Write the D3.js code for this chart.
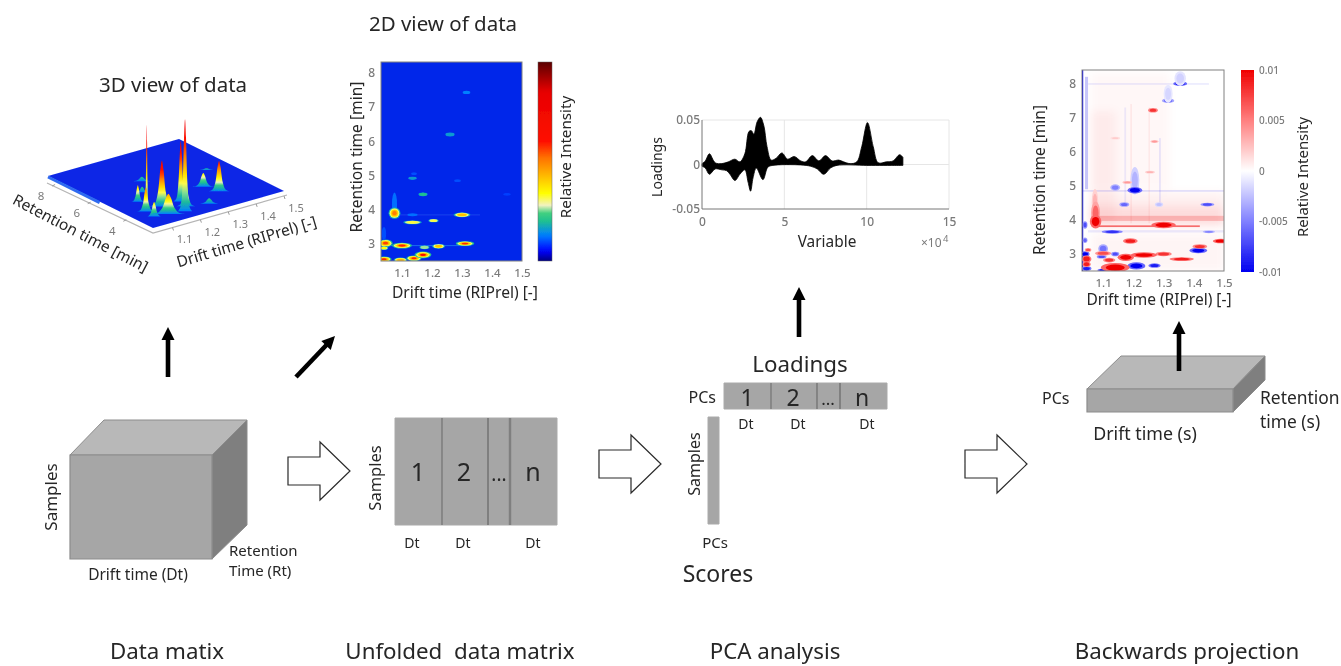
<!DOCTYPE html>
<html>
<head>
<meta charset="utf-8">
<title>PCA workflow</title>
<script src="https://d3js.org/d3.v7.min.js"></script>
<style>
html, body { margin: 0; padding: 0; background: #fff; }
svg { display: block; }
text { font-family: "Noto Sans", sans-serif; fill: #262626; }
.tick text { fill: #7a7a7a; font-weight: 500; }
</style>
</head>
<body>
<div id="chart"></div>
<script>
// tick labels
var driftTicks = [1.1, 1.2, 1.3, 1.4, 1.5];
var rtTicks = [3, 4, 5, 6, 7, 8];
var rt3dTicks = [4, 6, 8];
var loadXTicks = [0, 5, 10, 15];
var loadYTicks = [-0.05, 0, 0.05];
var divTicks = [-0.01, -0.005, 0, 0.005, 0.01];

// 3D view: drift, retention time, height (relative), spread in drift
var peaks3d = [
  [1.335, 4.45, 0.15, 0.026],
  [1.35, 3.80, 0.33, 0.024],
  [1.116, 4.70, 0.18, 0.016],
  [1.10, 3.95, 0.92, 0.006],
  [1.09, 3.84, 0.26, 0.020],
  [1.15, 3.88, 0.50, 0.026],
  [1.216, 3.85, 0.66, 0.016],
  [1.18, 3.05, 1.00, 0.016],
  [1.205, 3.40, 0.26, 0.022],
  [1.13, 3.20, 0.22, 0.040],
  [1.27, 3.10, 0.06, 0.028],
  [1.085, 3.30, 0.16, 0.020],
  [1.22, 6.10, 0.05, 0.026],
  [1.17, 5.30, 0.06, 0.020],
  [1.42, 5.60, 0.02, 0.024]
];

// 2D view: drift, retention time, intensity, spread in drift, spread in rt
var heat2d = [
  [1.075, 4.15, 0.12, 0.006, 0.25],
  [1.075, 3.90, 0.50, 0.014, 0.12],
  [1.045, 3.02, 0.56, 0.017, 0.08],
  [1.04, 3.30, 0.10, 0.005, 0.14],
  [1.04, 2.88, 0.34, 0.010, 0.04],
  [1.10, 2.95, 0.58, 0.024, 0.06],
  [1.175, 2.90, 0.26, 0.012, 0.04],
  [1.222, 2.93, 0.42, 0.015, 0.05],
  [1.31, 3.01, 0.58, 0.022, 0.05],
  [1.04, 2.55, 0.58, 0.018, 0.06],
  [1.095, 2.53, 0.44, 0.016, 0.05],
  [1.14, 2.58, 0.58, 0.018, 0.06],
  [1.17, 2.68, 0.66, 0.020, 0.07],
  [1.135, 3.63, 0.32, 0.022, 0.04],
  [1.205, 3.68, 0.32, 0.012, 0.035],
  [1.30, 3.85, 0.42, 0.020, 0.05],
  [1.135, 3.85, 0.12, 0.012, 0.03],
  [1.17, 4.45, 0.20, 0.011, 0.04],
  [1.135, 4.92, 0.16, 0.010, 0.03],
  [1.14, 5.05, 0.10, 0.007, 0.025],
  [1.285, 4.85, 0.10, 0.008, 0.025],
  [1.45, 4.45, 0.09, 0.009, 0.025],
  [1.26, 6.20, 0.16, 0.011, 0.04],
  [1.315, 7.43, 0.13, 0.009, 0.035]
];

// loadings envelope, x in 10^4
var loadUpX = [0, 0.2, 0.45, 0.8, 1.2, 1.6, 2, 2.3, 2.6, 2.85, 3.0, 3.15, 3.35, 3.55, 3.75, 3.95, 4.2, 4.5, 4.85, 5.2, 5.6, 6, 6.3, 6.7, 7.1, 7.5, 7.9, 8.3, 8.6, 9, 9.4, 9.7, 10.05, 10.4, 10.7, 11.2, 11.6, 12, 12.2];
var loadUpY = [0.001, 0.004, 0.012, 0.002, 0.001, 0.003, 0.006, 0.003, 0.012, 0.037, 0.038, 0.034, 0.048, 0.053, 0.044, 0.02, 0.005, 0.007, 0.013, 0.006, 0.009, 0.004, 0.003, 0.010, 0.004, 0.010, 0.004, 0.005, 0.003, 0.001, 0.003, 0.02, 0.047, 0.02, 0.002, 0.003, 0.004, 0.011, 0.008];
var loadLoX = [0, 0.2, 0.45, 0.8, 1.2, 1.5, 1.7, 2, 2.3, 2.6, 2.8, 2.95, 3.1, 3.3, 3.7, 4, 4.3, 6, 6.6, 7, 7.4, 7.8, 8.2, 10, 11, 11.5, 12.2];
var loadLoY = [-0.002, -0.004, -0.011, -0.005, -0.006, -0.007, -0.011, -0.018, -0.011, -0.006, -0.02, -0.03, -0.015, -0.004, -0.017, -0.003, -0.001, -0.0005, -0.002, -0.005, -0.011, -0.004, -0.001, -0.001, -0.001, -0.001, -0.001];

// backwards projection: broad washes as drift0, drift1, rt0, rt1, value (-1..1)
var divWash = [
  [1.06, 1.5, 3.85, 4.4, 0.14],
  [1.06, 1.5, 4.4, 4.8, 0.06],
  [1.06, 1.32, 4.9, 8.3, 0.03],
  [1.06, 1.14, 3.9, 7.2, 0.05],
  [1.06, 1.5, 2.5, 3.6, 0.04]
];
// thin streaks, same layout
var divStreak = [
  [1.06, 1.5, 3.97, 4.12, 0.2],
  [1.08, 1.42, 3.79, 3.84, 0.55],
  [1.03, 1.5, 4.83, 4.87, -0.15],
  [1.05, 1.45, 7.97, 8.01, -0.1],
  [1.04, 1.05, 4.9, 8.2, -0.22],
  [1.03, 1.034, 2.5, 8.4, -1],
  [1.17, 1.176, 4.4, 7.3, -0.07],
  [1.285, 1.291, 4.4, 6.4, -0.09],
  [1.19, 1.195, 3.9, 7.4, 0.07],
  [1.25, 1.255, 3.9, 7.3, 0.06],
  [1.05, 1.5, 3.63, 3.7, -0.08]
];
// drift, rt, value, spread in drift, spread in rt
var divPeaks = [
  [1.355, 8.00, -1, 0.017, 0.05],
  [1.355, 8.15, -0.18, 0.014, 0.16],
  [1.315, 7.50, -0.6, 0.015, 0.05],
  [1.315, 7.70, -0.16, 0.011, 0.2],
  [1.205, 5.15, -0.3, 0.011, 0.3],
  [1.205, 4.87, -1, 0.018, 0.07],
  [1.14, 4.95, -0.5, 0.012, 0.07],
  [1.17, 4.45, -0.6, 0.012, 0.05],
  [1.285, 4.45, -0.25, 0.010, 0.05],
  [1.445, 4.45, -0.7, 0.017, 0.04],
  [1.45, 3.65, -0.5, 0.015, 0.03],
  [1.13, 3.65, -0.8, 0.026, 0.04],
  [1.10, 3.15, -0.55, 0.012, 0.1],
  [1.04, 3.85, -0.7, 0.006, 0.08],
  [1.04, 3.40, -0.6, 0.006, 0.06],
  [1.04, 3.00, -1, 0.011, 0.06],
  [1.415, 3.10, -1, 0.022, 0.06],
  [1.21, 2.65, -1, 0.022, 0.08],
  [1.27, 2.66, -0.9, 0.015, 0.05],
  [1.14, 3.00, -0.7, 0.010, 0.05],
  [1.095, 2.92, -0.7, 0.012, 0.04],
  [1.045, 2.57, -0.9, 0.012, 0.05],
  [1.10, 2.52, -0.9, 0.014, 0.04],
  [1.073, 4.5, 0.3, 0.008, 0.3],
  [1.075, 4.2, 0.6, 0.011, 0.25],
  [1.075, 3.95, 1, 0.014, 0.15],
  [1.30, 3.85, 1, 0.030, 0.07],
  [1.265, 7.22, 0.8, 0.012, 0.05],
  [1.27, 6.30, 0.4, 0.010, 0.03],
  [1.255, 5.40, 0.3, 0.012, 0.03],
  [1.14, 6.40, 0.2, 0.012, 0.03],
  [1.18, 5.10, 0.4, 0.012, 0.03],
  [1.19, 3.38, 0.9, 0.018, 0.06],
  [1.42, 3.22, 0.8, 0.018, 0.05],
  [1.49, 3.38, 1, 0.020, 0.05],
  [1.30, 3.00, 0.8, 0.020, 0.05],
  [1.36, 2.85, 0.9, 0.030, 0.04],
  [1.175, 2.90, 1, 0.020, 0.08],
  [1.235, 2.97, 1, 0.032, 0.06],
  [1.14, 2.60, 1, 0.035, 0.10],
  [1.045, 2.85, 0.9, 0.012, 0.08],
  [1.045, 2.70, 0.9, 0.010, 0.06],
  [1.10, 3.02, 0.7, 0.020, 0.05],
  [1.12, 2.82, 0.8, 0.015, 0.05],
  [1.05, 3.12, 0.7, 0.008, 0.04]
];

// colour maps
var jetPos = [0, 0.05, 0.13, 0.2, 0.24, 0.28, 0.34, 0.42, 0.52, 0.6, 0.85, 1];
var jetCol = ["#00007f", "#0000ff", "#0080ff", "#20c090", "#40d080", "#f2f2c0", "#ffff00", "#ffc000", "#ff7000", "#ff1000", "#e80000", "#5a0000"];
var jet = d3.scaleLinear().domain(jetPos).range(jetCol).clamp(true);
var redBlue = d3.scaleLinear().domain([-1, -0.5, 0, 0.5, 1]).range(["#0000f0", "#8080ff", "#ffffff", "#ff8080", "#f00000"]).clamp(true);

var w = 1341, h = 666;
var svg = d3.select("#chart").append("svg").attr("width", w).attr("height", h);
svg.append("rect").attr("width", w).attr("height", h).attr("fill", "#fff");
var defs = svg.append("defs");

function addBlur(id, sd) {
  defs.append("filter").attr("id", id)
    .attr("x", "-20%").attr("y", "-20%").attr("width", "140%").attr("height", "140%")
    .append("feGaussianBlur").attr("stdDeviation", sd);
}
addBlur("soft", 0.45);
addBlur("heat", 0.7);
addBlur("wash", 4.5);
addBlur("streak", 0.6);
var root = svg.append("g").attr("filter", "url(#soft)");

function label(t, x, y, size, anchor, rot) {
  var n = root.append("text").text(t).attr("font-size", size).attr("text-anchor", anchor || "middle");
  if (rot) n.attr("transform", "translate(" + x + "," + y + ") rotate(" + rot + ")");
  else n.attr("x", x).attr("y", y);
  return n;
}

function poly(pts, fill, stroke, sw) {
  return root.append("polygon").attr("points", pts.join(" "))
    .attr("fill", fill).attr("stroke", stroke || "none").attr("stroke-width", sw || 0)
    .attr("stroke-linejoin", "miter");
}

function verticalBar(id, scale, dom) {
  var grad = defs.append("linearGradient").attr("id", id)
    .attr("x1", 0).attr("y1", 1).attr("x2", 0).attr("y2", 0);
  dom.forEach(function(v, i) {
    grad.append("stop").attr("offset", i / (dom.length - 1)).attr("stop-color", scale(v));
  });
}

// black arrows
function blackArrow(x0, y0, x1, y1) {
  var a = Math.atan2(y1 - y0, x1 - x0) * 180 / Math.PI;
  var len = Math.hypot(x1 - x0, y1 - y0);
  var g = root.append("g").attr("transform", "translate(" + x0 + "," + y0 + ") rotate(" + a + ")");
  g.append("rect").attr("x", 0).attr("y", -2.3).attr("width", len - 11).attr("height", 4.6).attr("fill", "#000");
  g.append("path").attr("d", "M" + (len - 13) + ",-6.5L" + len + ",0L" + (len - 13) + ",6.5Z").attr("fill", "#000");
}

// hollow arrows between blocks
function hollowArrow(x, yMid) {
  poly([[x, yMid - 14], [x + 32, yMid - 14], [x + 32, yMid - 29], [x + 62, yMid], [x + 32, yMid + 29], [x + 32, yMid + 14], [x, yMid + 14]],
    "#fff", "#2a2a2a", 1.2);
}

// ---------- blocks ----------
var sideC = "#7f7f7f", frontC = "#a6a6a6", topC = "#b8b8b8", edgeC = "#8c8c8c";

// data cube
poly([[70, 455], [104, 420], [247, 420], [212, 455]], topC, edgeC, 1);
poly([[212, 455], [247, 420], [247, 525], [212, 559]], sideC, edgeC, 1);
poly([[70, 455], [212, 455], [212, 559], [70, 559]], frontC, edgeC, 1.2);
label("Samples", 57, 497, 17, "middle", -90);
label("Drift time (Dt)", 138, 580, 15.5);
label("Retention", 229, 556, 15, "start");
label("Time (Rt)", 229, 576, 15, "start");

blackArrow(168, 377, 168, 327);
blackArrow(296, 377, 335, 336);
hollowArrow(288, 471);

// unfolded matrix
poly([[395, 418], [557, 418], [557, 525], [395, 525]], frontC, "#aaa", 1);
[[442, 1.6], [488, 2], [510, 2.4]].forEach(function(d) {
  root.append("line").attr("x1", d[0]).attr("x2", d[0]).attr("y1", 418).attr("y2", 525)
    .attr("stroke", "#7f7f7f").attr("stroke-width", d[1]);
});
label("Samples", 381, 478, 16.5, "middle", -90);
label("1", 418, 481, 25);
label("2", 464, 481, 25);
label("...", 499, 481, 19);
label("n", 533, 481, 25);
label("Dt", 412, 548, 14);
label("Dt", 463, 548, 14);
label("Dt", 533, 548, 14);

hollowArrow(599, 464);

// PCA blocks
poly([[724, 383], [887, 383], [887, 409], [724, 409]], frontC, "#aaa", 1);
[[771, 1.6], [817, 1.8], [840, 2]].forEach(function(d) {
  root.append("line").attr("x1", d[0]).attr("x2", d[0]).attr("y1", 383).attr("y2", 409)
    .attr("stroke", "#808080").attr("stroke-width", d[1]);
});
poly([[708, 417], [719, 417], [719, 524], [708, 524]], frontC, "#aaa", 1);
label("Loadings", 800, 372, 22.3);
label("Scores", 718, 582, 23);
label("PCs", 716, 403, 16, "end");
label("PCs", 715, 548, 15);
label("Samples", 700, 464, 16, "middle", -90);
label("1", 747, 406, 23);
label("2", 793, 406, 23);
label("...", 828, 405, 17);
label("n", 862, 406, 23);
label("Dt", 746, 429, 14);
label("Dt", 798, 429, 14);
label("Dt", 867, 429, 14);
blackArrow(799, 337, 799, 287);

hollowArrow(965, 464);

// slab
poly([[1087, 389], [1121, 356], [1265, 356], [1233, 389]], topC, edgeC, 1);
poly([[1233, 389], [1265, 356], [1265, 380], [1233, 412]], sideC, edgeC, 1);
poly([[1087, 389], [1233, 389], [1233, 412], [1087, 412]], frontC, edgeC, 1.2);
blackArrow(1179, 371, 1179, 321);
label("PCs", 1042, 404, 16, "start");
label("Drift time (s)", 1145, 440, 17.8);
label("Retention", 1260, 404, 17.4, "start");
label("time (s)", 1260, 428, 17.4, "start");

// captions
label("3D view of data", 173, 92, 20.5);
label("2D view of data", 443, 31, 20.5);
label("Data matix", 167, 659, 22.3);
label("Unfolded  data matrix", 460, 659, 22.3).style("white-space", "pre");
label("PCA analysis", 775, 659, 22.3);
label("Backwards projection", 1187, 659, 22.3);

// ---------- 3D view ----------
var front = [153, 228], right = [284, 191], left = [48, 176], axisO = [153, 233];
var u3d = d3.scaleLinear().domain([1.03, 1.5]).range([0, 1]);
var v3d = d3.scaleLinear().domain([2.5, 8.4]).range([0, 1]);
var z3d = d3.scaleLinear().domain([0, 1]).range([0, 92]);
function proj(d, r, o) {
  var b = o || front;
  return [b[0] + u3d(d) * (right[0] - front[0]) + v3d(r) * (left[0] - front[0]),
          b[1] + u3d(d) * (right[1] - front[1]) + v3d(r) * (left[1] - front[1])];
}
// plate
var plate3d = root.append("g");
plate3d.append("polygon")
  .attr("points", [front, right, proj(1.5, 8.4), left].join(" "))
  .attr("fill", "#0a28e6");
plate3d.append("line").attr("x1", left[0]).attr("y1", left[1] + 1).attr("x2", proj(1.03, 5.5)[0]).attr("y2", proj(1.03, 5.5)[1] + 1)
  .attr("stroke", "#2f6bf0").attr("stroke-width", 3);
// axis lines
plate3d.append("polyline")
  .attr("points", [[47, 183], axisO, [287, 195]].join(" "))
  .attr("fill", "none").attr("stroke", "#b5b5b5").attr("stroke-width", 1.2);
rt3dTicks.forEach(function(t) {
  var p = proj(1.03, t, axisO);
  plate3d.append("line").attr("x1", p[0]).attr("y1", p[1]).attr("x2", p[0] - 3).attr("y2", p[1] + 1.5).attr("stroke", "#999");
  label(t, p[0] - 14, p[1] + 15, 11.5).style("fill", "#7a7a7a");
});
driftTicks.forEach(function(t) {
  var p = proj(t, 2.5, axisO);
  plate3d.append("line").attr("x1", p[0]).attr("y1", p[1]).attr("x2", p[0] + 1).attr("y2", p[1] + 3).attr("stroke", "#999");
  label(t.toFixed(1), p[0] + 12, p[1] + 16, 11).style("fill", "#7a7a7a");
});
label("Retention time [min]", 78, 238, 15.5, "middle", 27.5);
label("Drift time (RIPrel) [-]", 248, 247, 15.5, "middle", -16.5);

// peaks, back to front
var peakLine = d3.line().curve(d3.curveCatmullRom.alpha(0.5));
var profile = [[-1.6, 0], [-1, 0.05], [-0.55, 0.3], [-0.22, 0.8], [0, 1], [0.22, 0.8], [0.55, 0.3], [1, 0.05], [1.6, 0]];
var sorted = peaks3d.slice().sort(function(a, b) { return b[1] - a[1]; });
sorted.forEach(function(p, i) {
  var b = proj(p[0], p[1]);
  var top = z3d(p[2]);
  var wpx = p[3] * 280;
  var id = "pk" + i;
  var grad = defs.append("linearGradient").attr("id", id).attr("x1", 0).attr("y1", 1).attr("x2", 0).attr("y2", 0);
  var ratio = Math.max(p[2], 0.05) * 1.5;
  d3.range(0, 1.001, 0.1).forEach(function(f) {
    grad.append("stop").attr("offset", f).attr("stop-color", jet(0.13 + f * Math.min(ratio, 0.62)));
  });
  root.append("path")
    .attr("d", peakLine(profile.map(function(q) { return [b[0] + q[0] * wpx, b[1] - q[1] * top]; })))
    .attr("fill", "url(#" + id + ")");
});

// ---------- 2D view ----------
var x2d = d3.scaleLinear().domain([1.03, 1.5]).range([381, 522]);
var y2d = d3.scaleLinear().domain([2.5, 8.32]).range([261, 62]);
defs.append("clipPath").attr("id", "clip2d").append("rect")
  .attr("x", 381).attr("y", 62).attr("width", 141).attr("height", 199);
var g2d = root.append("g").attr("clip-path", "url(#clip2d)");
g2d.append("rect").attr("x", 381).attr("y", 62).attr("width", 141).attr("height", 199).attr("fill", "#0528ea");
// faint streak at the main peak rows
g2d.append("line").attr("x1", x2d(1.06)).attr("x2", x2d(1.36)).attr("y1", y2d(3.85)).attr("y2", y2d(3.85))
  .attr("stroke", "#1040ee").attr("stroke-width", 1);
g2d.append("line").attr("x1", x2d(1.03)).attr("x2", x2d(1.33)).attr("y1", y2d(2.95)).attr("y2", y2d(2.95))
  .attr("stroke", "#1a6ff0").attr("stroke-width", 1);
var layers = g2d.append("g").attr("filter", "url(#heat)");
var steps = [[1.4, 0.14], [1.15, 0.24], [0.95, 0.3], [0.75, 0.38], [0.5, 1]];
heat2d.forEach(function(p) {
  var rx = x2d(1.03 + p[3]) - x2d(1.03);
  var ry = y2d(2.5) - y2d(2.5 + p[4]);
  steps.forEach(function(s) {
    var v = s[1] === 1 ? p[2] : Math.min(s[1] + p[2] * 0.1, p[2]);
    layers.append("ellipse")
      .attr("cx", x2d(p[0])).attr("cy", y2d(p[1]))
      .attr("rx", rx * s[0]).attr("ry", ry * s[0])
      .attr("fill", jet(v));
  });
});
root.append("rect").attr("x", 381).attr("y", 62).attr("width", 141).attr("height", 199)
  .attr("fill", "none").attr("stroke", "#808080").attr("stroke-width", 1);

function axesFor(x, y, xt, yt) {
  var gx = root.append("g").attr("transform", "translate(0," + y.range()[0] + ")")
    .call(d3.axisBottom(x).tickValues(xt).tickSize(0).tickPadding(8).tickFormat(d3.format(".1f")));
  gx.select(".domain").remove();
  gx.selectAll("text").attr("font-size", 11.5).style("font-family", "'Noto Sans', sans-serif");
  var gy = root.append("g").attr("transform", "translate(" + x.range()[0] + ",0)")
    .call(d3.axisLeft(y).tickValues(yt).tickSize(0).tickPadding(6).tickFormat(d3.format("d")));
  gy.select(".domain").remove();
  gy.selectAll("text").attr("font-size", 12).style("font-family", "'Noto Sans', sans-serif");
}
axesFor(x2d, y2d, driftTicks, rtTicks);
label("Drift time (RIPrel) [-]", 465, 298, 15.6);
label("Retention time [min]", 362, 157, 15.6, "middle", -90);
label("Relative Intensity", 571, 157, 15.2, "middle", -90);
verticalBar("jetBar", jet, d3.range(0, 1.001, 0.02));
root.append("rect").attr("x", 538).attr("y", 62).attr("width", 14).attr("height", 199)
  .attr("fill", "url(#jetBar)").attr("stroke", "#666").attr("stroke-width", 0.5);

// ---------- loadings ----------
var xL = d3.scaleLinear().domain([0, 15]).range([702, 949]);
var yL = d3.scaleLinear().domain([-0.05, 0.05]).range([209, 120]);
loadXTicks.slice(1).forEach(function(t) {
  root.append("line").attr("x1", xL(t)).attr("x2", xL(t)).attr("y1", 120).attr("y2", 209).attr("stroke", "#e6e6e6");
});
[0, 0.05].forEach(function(t) {
  root.append("line").attr("x1", 702).attr("x2", 949).attr("y1", yL(t)).attr("y2", yL(t)).attr("stroke", "#e6e6e6");
});
// outline goes up along the top readings and back along the bottom ones
var loadUpper = d3.line().curve(d3.curveCatmullRom).x(function(d) { return xL(d[0]); }).y(function(d) { return yL(d[1]); });
var outlineUp = d3.zip(loadUpX, loadUpY);
var outlineLo = d3.zip(loadLoX, loadLoY).reverse();
root.append("path")
  .attr("d", loadUpper(outlineUp) + "L" + loadUpper(outlineLo).slice(1) + "Z")
  .attr("fill", "#000").attr("stroke", "#000").attr("stroke-width", 0.8);
root.append("path").attr("d", "M702,120V209H949").attr("fill", "none").attr("stroke", "#777").attr("stroke-width", 1);
var gxL = root.append("g").attr("transform", "translate(0,209)")
  .call(d3.axisBottom(xL).tickValues(loadXTicks).tickSize(0).tickPadding(8).tickFormat(d3.format("d")));
gxL.select(".domain").remove();
gxL.selectAll("text").attr("font-size", 12).style("font-family", "'Noto Sans', sans-serif");
var gyL = root.append("g").attr("transform", "translate(702,0)")
  .call(d3.axisLeft(yL).tickValues(loadYTicks).tickSize(0).tickPadding(2).tickFormat(function(d) { return d === 0 ? "0" : (d < 0 ? "-" : "") + "0.05"; }));
gyL.select(".domain").remove();
gyL.selectAll("text").attr("font-size", 12).style("font-family", "'Noto Sans', sans-serif");
label("Loadings", 662, 167, 14, "middle", -90);
label("Variable", 827, 247, 15.4);
label("×10", 921, 247, 12, "start").style("fill", "#7a7a7a");
label("4", 943, 242, 9.5, "start").style("fill", "#7a7a7a");

// ---------- backwards projection ----------
var xD = d3.scaleLinear().domain([1.03, 1.5]).range([1082, 1224]);
var yD = d3.scaleLinear().domain([2.5, 8.4]).range([271, 70]);
defs.append("clipPath").attr("id", "clipD").append("rect")
  .attr("x", 1082).attr("y", 70).attr("width", 142).attr("height", 201);
var gD = root.append("g").attr("clip-path", "url(#clipD)");
gD.append("rect").attr("x", 1082).attr("y", 70).attr("width", 142).attr("height", 201).attr("fill", "#fff");
function bands(rows, filterId) {
  var g = gD.append("g").attr("filter", "url(#" + filterId + ")");
  rows.forEach(function(d) {
    g.append("rect").attr("x", xD(d[0])).attr("y", yD(d[3]))
      .attr("width", xD(d[1]) - xD(d[0])).attr("height", yD(d[2]) - yD(d[3]))
      .attr("fill", d[4] > 0 ? "#f00000" : "#0000f0").attr("fill-opacity", Math.abs(d[4]));
  });
}
bands(divWash, "wash");
bands(divStreak, "streak");
var spots = gD.append("g").attr("filter", "url(#heat)");
divPeaks.forEach(function(p) {
  var rx = xD(1.03 + p[3]) - xD(1.03);
  var ry = yD(2.5) - yD(2.5 + p[4]);
  spots.append("ellipse").attr("cx", xD(p[0])).attr("cy", yD(p[1]))
    .attr("rx", rx * 1.35).attr("ry", ry * 1.35).attr("fill", redBlue(p[2] * 0.6));
  spots.append("ellipse").attr("cx", xD(p[0])).attr("cy", yD(p[1]))
    .attr("rx", rx * 0.9).attr("ry", ry * 0.9).attr("fill", redBlue(p[2]));
});
root.append("rect").attr("x", 1082).attr("y", 70).attr("width", 142).attr("height", 201)
  .attr("fill", "none").attr("stroke", "#808080").attr("stroke-width", 1);
axesFor(xD, yD, driftTicks, rtTicks);
label("Drift time (RIPrel) [-]", 1159, 305, 15.5);
label("Retention time [min]", 1045, 180, 15.5, "middle", -90);
label("Relative Intensity", 1308, 177, 14.9, "middle", -90);

var barY = d3.scaleLinear().domain([-0.01, 0.01]).range([272, 70]);
verticalBar("divBar", redBlue, d3.range(-1, 1.001, 0.1));
root.append("rect").attr("x", 1241).attr("y", 70).attr("width", 13).attr("height", 202).attr("fill", "url(#divBar)");
var gBar = root.append("g").attr("transform", "translate(1254,0)")
  .call(d3.axisRight(barY).tickValues(divTicks).tickSize(0).tickPadding(5).tickFormat(function(d) { return d === 0 ? "0" : String(d); }));
gBar.select(".domain").remove();
gBar.selectAll("text").attr("font-size", 10).style("font-family", "'Noto Sans', sans-serif");
</script>
</body>
</html>
